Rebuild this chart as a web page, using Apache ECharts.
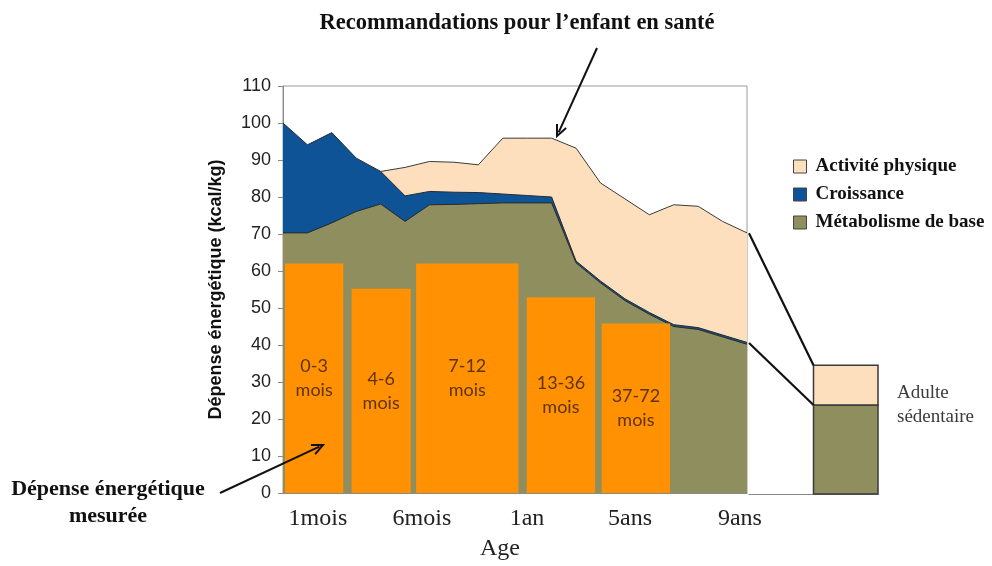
<!DOCTYPE html>
<html><head><meta charset="utf-8">
<script src="https://cdn.jsdelivr.net/npm/echarts@6/dist/echarts.min.js"></script>
<style>html,body{margin:0;padding:0;background:#fff}#c{width:992px;height:566px}</style>
</head><body><div id="c"></div>
<script>
// Sample points along the (non-linear) age axis
const pointIndex = [0,1,2,3,4,5,6,7,8,9,10,11,12,13,14,15,16,17,18,19];
const metabolisme = [70.3,70.3,73,76.1,78.1,73.4,77.9,78,78.2,78.4,78.4,78.4,62.2,56.8,52,48.3,45,44.2,42.2,40.2];
const croissance  = [29.7,23.8,24.4,14.4,8.8,6.9,3.6,3.3,3.0,2.4,2.0,1.6,0.5,0.5,0.5,0.5,0.5,0.5,0.5,0.5];
const activite    = [null,null,null,null,0,7.7,8.1,8.1,7.5,15.1,15.5,15.9,30.5,26.5,27,26.4,32.4,32.8,30.7,29.6];

// Measured energy expenditure (age groups)
const measuredStart  = [0.08, 2.81, 5.45, 9.98, 13.05];
const measuredEnd    = [2.47, 5.23, 9.64, 12.78, 15.85];
const measuredValue  = [62, 55.2, 62, 52.9, 45.8];
const measuredLabels = ['0-3\nmois','4-6\nmois','7-12\nmois','13-36\nmois','37-72\nmois'];

// Age axis tick labels
const ageTickLabels    = ['1mois','6mois','1an','5ans','9ans'];
const ageTickPositions = [1.43, 5.69, 9.99, 14.21, 18.71];

// Sedentary adult
const adultMetabolisme = 24;
const adultActivite = 10.7;

const seriesNames = ['Métabolisme de base','Croissance','Activité physique'];
const C = {green:'#8E8E5E', blue:'#0D5395', peach:'#FDDFBD', orange:'#FF9102', text:'#5E3309', line:'#2a2a2a'};

// cumulative tops of the stacked bands
const topGreen = metabolisme.slice();
const topBlue = metabolisme.map((v,i)=>v + croissance[i]);
const topPeach = topBlue.map((v,i)=> activite[i]==null ? null : v + activite[i]);

const chart = echarts.init(document.getElementById('c'), null, {renderer:'canvas'});

function arrow(x1,y1,x2,y2){
  const a = Math.atan2(y2-y1, x2-x1), L = 11, W = 5;
  const bx = x2 - L*Math.cos(a), by = y2 - L*Math.sin(a);
  const px = -Math.sin(a)*W, py = Math.cos(a)*W;
  return {type:'group', silent:true, z:100, children:[
    {type:'line', z:100, shape:{x1:x1,y1:y1,x2:x2-4*Math.cos(a),y2:y2-4*Math.sin(a)}, style:{stroke:'#111', lineWidth:2}},
    {type:'polyline', z:100, shape:{points:[[bx+px,by+py],[x2,y2],[bx-px,by-py]]}, style:{stroke:'#111', lineWidth:2, fill:null}}
  ]};
}

const totalLast = topPeach[topPeach.length-1];
const greenLast = topBlue[topBlue.length-1];

const option = {
  animation:false,
  grid:[
    {left:283, top:86, width:464, height:408, show:true, borderColor:'#9a9a9a', borderWidth:1},
    {left:749, top:86, width:129, height:408}
  ],
  xAxis:[
    {type:'value', gridIndex:0, min:0, max:19,
      axisLine:{show:true, lineStyle:{color:'#8a8a8a'}}, axisTick:{show:false}, splitLine:{show:false},
      axisLabel:{customValues:ageTickPositions,
        formatter:function(v){ for(let i=0;i<ageTickPositions.length;i++){ if(Math.abs(ageTickPositions[i]-v)<1e-6) return ageTickLabels[i]; } return ''; },
        fontFamily:'Liberation Serif', fontSize:24, color:'#222', margin:14},
      name:'Age', nameLocation:'middle', nameGap:44,
      nameTextStyle:{fontFamily:'Liberation Serif', fontSize:24, color:'#222', padding:[0,30,0,0]}},
    {type:'value', gridIndex:1, min:0, max:2,
      axisLine:{show:true, lineStyle:{color:'#888'}}, axisTick:{show:false}, axisLabel:{show:false}, splitLine:{show:false}}
  ],
  yAxis:[
    {type:'value', gridIndex:0, min:0, max:110, interval:10,
      axisLine:{show:true, lineStyle:{color:'#8a8a8a'}}, axisTick:{show:true, length:5, lineStyle:{color:'#8a8a8a'}},
      splitLine:{show:false},
      axisLabel:{fontFamily:'Liberation Sans', fontSize:18, color:'#222', margin:12},
      name:'Dépense énergétique (kcal/kg)', nameLocation:'middle', nameGap:58,
      nameTextStyle:{fontFamily:'Liberation Sans', fontWeight:'bold', fontSize:18, color:'#111'}},
    {type:'value', gridIndex:1, min:0, max:110, show:false}
  ],
  legend:{
    left:788, top:152, orient:'vertical', itemWidth:13, itemHeight:13, itemGap:9, icon:'rect', selectedMode:false,
    textStyle:{fontFamily:'Liberation Serif', fontWeight:'bold', fontSize:19, color:'#111', padding:[0,0,0,4]},
    data:[
      {name:'Activité physique', itemStyle:{color:C.peach, borderColor:'#444', borderWidth:1}},
      {name:'Croissance', itemStyle:{color:C.blue, borderColor:'#444', borderWidth:1}},
      {name:'Métabolisme de base', itemStyle:{color:C.green, borderColor:'#444', borderWidth:1}}
    ]
  },
  series:[
    {name:seriesNames[2], type:'line', xAxisIndex:0, yAxisIndex:0, symbol:'none', z:2,
      data:pointIndex.map((x,i)=>[x, topPeach[i]]),
      itemStyle:{color:C.peach}, lineStyle:{color:'#3a3a3a', width:1}, areaStyle:{color:C.peach, opacity:1}},
    {name:seriesNames[1], type:'line', xAxisIndex:0, yAxisIndex:0, symbol:'none', z:3,
      data:pointIndex.map((x,i)=>[x, topBlue[i]]),
      itemStyle:{color:C.blue}, lineStyle:{color:C.line, width:1}, areaStyle:{color:C.blue, opacity:1}},
    {name:seriesNames[0], type:'line', xAxisIndex:0, yAxisIndex:0, symbol:'none', z:4,
      data:pointIndex.map((x,i)=>[x, topGreen[i]]),
      itemStyle:{color:C.green}, lineStyle:{color:C.line, width:1}, areaStyle:{color:C.green, opacity:1}},
    {name:'Dépense mesurée', type:'custom', xAxisIndex:0, yAxisIndex:0, z:5,
      data:measuredStart.map((s,i)=>[s, measuredEnd[i], measuredValue[i]]),
      encode:{x:[0,1], y:2},
      renderItem:function(params, api){
        const p0 = api.coord([api.value(0), 0]);
        const p1 = api.coord([api.value(1), api.value(2)]);
        const mid = api.coord([(api.value(0)+api.value(1))/2, api.value(2)/2]);
        return {type:'group', children:[
          {type:'rect', shape:{x:p0[0], y:p1[1], width:p1[0]-p0[0], height:p0[1]-p1[1]}, style:{fill:C.orange}},
          {type:'text', x:mid[0], y:mid[1], style:{text:measuredLabels[params.dataIndex], align:'center', verticalAlign:'middle',
            fill:C.text, font:'18px Lato', lineHeight:24}}
        ]};
      }},
    {name:'Adulte', type:'custom', xAxisIndex:1, yAxisIndex:1, z:5,
      data:[[1,2,0,adultMetabolisme],[1,2,adultMetabolisme,adultMetabolisme+adultActivite]],
      encode:{x:[0,1], y:[2,3]},
      renderItem:function(params, api){
        const p0 = api.coord([api.value(0), api.value(2)]);
        const p1 = api.coord([api.value(1), api.value(3)]);
        return {type:'rect', shape:{x:p0[0], y:p1[1], width:p1[0]-p0[0], height:p0[1]-p1[1]},
          style:{fill: params.dataIndex===0 ? C.green : C.peach, stroke:'#3a3a3a', lineWidth:1.5}};
      }},
    {name:'lien1', type:'line', xAxisIndex:1, yAxisIndex:1, symbol:'none', clip:false, z:6,
      data:[[0,totalLast],[1,adultMetabolisme+adultActivite]], lineStyle:{color:'#111', width:2.2}},
    {name:'lien2', type:'line', xAxisIndex:1, yAxisIndex:1, symbol:'none', clip:false, z:6,
      data:[[0,greenLast],[1,adultMetabolisme]], lineStyle:{color:'#111', width:2.2}}
  ],
  graphic:[
    {type:'text', z:100, style:{x:517, y:23, text:'Recommandations pour l\u2019enfant en santé', align:'center', verticalAlign:'middle',
      font:'bold 22.5px "Liberation Serif"', fill:'#111'}, silent:true},
    arrow(597,48,557,136),
    {type:'text', z:100, style:{x:108, y:503, text:'Dépense énergétique\nmesurée', align:'center', verticalAlign:'middle',
      font:'bold 22px "Liberation Serif"', fill:'#111', lineHeight:27}, silent:true},
    arrow(220,493,323,445),
    {type:'text', z:100, style:{x:897, y:405, text:'Adulte\nsédentaire', align:'left', verticalAlign:'middle',
      font:'19px "Liberation Serif"', fill:'#3a3a3a', lineHeight:24}, silent:true}
  ]
};
chart.setOption(option);
</script></body></html>
